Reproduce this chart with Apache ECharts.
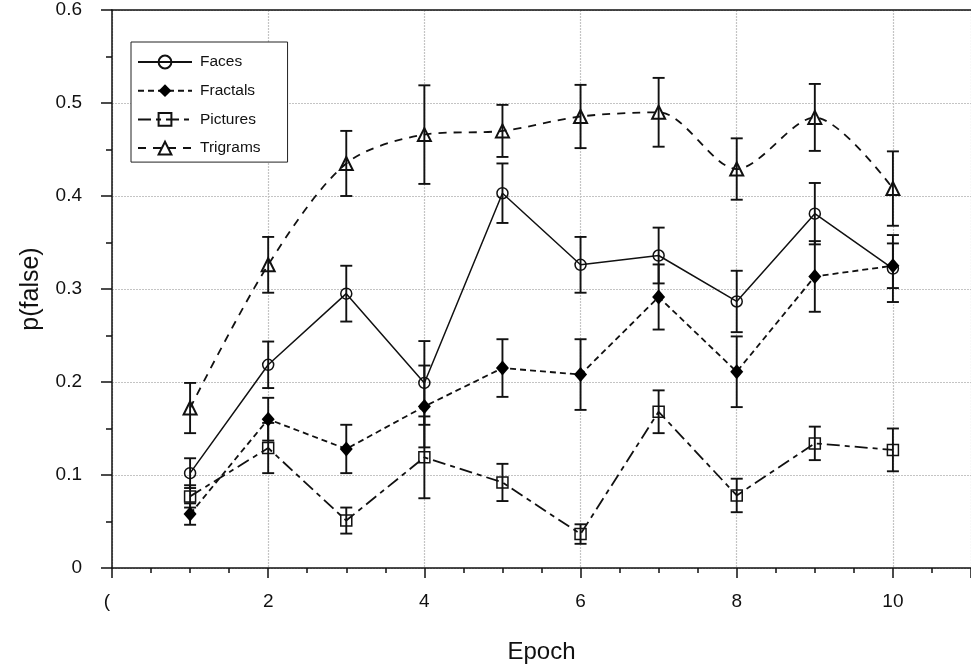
<!DOCTYPE html>
<html>
<head>
<meta charset="utf-8">
<script src="https://cdn.jsdelivr.net/npm/echarts@6/dist/echarts.min.js"></script>
<style>
html,body{margin:0;padding:0;background:#fff;}
#chart{width:971px;height:670px;}
</style>
</head>
<body>
<div id="chart"></div>
<script>
// ---- data ----
var epochs = [1, 2, 3, 4, 5, 6, 7, 8, 9, 10];
var seriesNames = ['Faces', 'Fractals', 'Pictures', 'Trigrams'];
var facesMean    = [0.102, 0.2185, 0.295, 0.199, 0.403, 0.326, 0.336, 0.2866, 0.381, 0.322];
var facesErr     = [0.016, 0.025, 0.030, 0.045, 0.032, 0.030, 0.030, 0.033, 0.033, 0.036];
var fractalsMean = [0.058, 0.160, 0.128, 0.1737, 0.215, 0.208, 0.2914, 0.211, 0.3135, 0.325];
var fractalsErr  = [0.0115, 0.023, 0.026, 0.044, 0.031, 0.038, 0.035, 0.038, 0.038, 0.024];
var picturesMean = [0.077, 0.129, 0.051, 0.119, 0.092, 0.0365, 0.168, 0.078, 0.134, 0.127];
var picturesErr  = [0.012, 0.027, 0.014, 0.044, 0.020, 0.0105, 0.023, 0.018, 0.018, 0.023];
var trigramsMean = [0.172, 0.326, 0.435, 0.466, 0.470, 0.4855, 0.490, 0.429, 0.4845, 0.408];
var trigramsErr  = [0.027, 0.030, 0.035, 0.053, 0.028, 0.034, 0.037, 0.033, 0.036, 0.040];
var xAxisTitle = 'Epoch';
var yAxisTitle = 'p(false)';

var FONT = '"Liberation Sans", Arial, Helvetica, sans-serif';
var INK = '#111';

function pts(means) {
  return epochs.map(function (e, i) { return [e, means[i]]; });
}
function errPts(means, errs) {
  return epochs.map(function (e, i) { return [e, means[i] - errs[i], means[i] + errs[i]]; });
}

function errorSeries(means, errs) {
  return {
    type: 'custom',
    silent: true,
    z: 1,
    data: errPts(means, errs),
    renderItem: function (params, api) {
      var x = api.value(0), lo = api.value(1), hi = api.value(2);
      var a = api.coord([x, hi]);
      var b = api.coord([x, lo]);
      var w = 6;
      var st = { stroke: '#111', lineWidth: 1.9 };
      return {
        type: 'group',
        children: [
          { type: 'line', shape: { x1: a[0], y1: a[1], x2: b[0], y2: b[1] }, style: st },
          { type: 'line', shape: { x1: a[0] - w, y1: a[1], x2: a[0] + w, y2: a[1] }, style: st },
          { type: 'line', shape: { x1: b[0] - w, y1: b[1], x2: b[0] + w, y2: b[1] }, style: st }
        ]
      };
    }
  };
}

var hollow = 'rgba(255,255,255,0)';

var chart = echarts.init(document.getElementById('chart'), null, { renderer: 'canvas' });
chart.setOption({
  animation: false,
  backgroundColor: '#fff',
  textStyle: { fontFamily: FONT, color: INK },
  grid: { left: 112, top: 10, right: -8, bottom: 102, containLabel: false },
  legend: {
    data: seriesNames,
    orient: 'vertical',
    left: 131,
    top: 42,
    padding: [12, 27, 6, 6],
    itemGap: 12.7,
    itemWidth: 54,
    itemHeight: 16,
    backgroundColor: '#fff',
    borderColor: '#222',
    borderWidth: 1,
    borderRadius: 0,
    textStyle: { fontFamily: FONT, fontSize: 15.5, color: INK, padding: [0, 0, 0, 3] }
  },
  xAxis: [{
    type: 'value',
    min: 0, max: 11, interval: 2,
    name: xAxisTitle,
    nameLocation: 'middle',
    nameGap: 72,
    nameTextStyle: { fontFamily: FONT, fontSize: 24, color: INK },
    axisLine: { show: true, onZero: false, lineStyle: { color: '#111', width: 1.5 } },
    axisTick: { show: true, length: 10, lineStyle: { color: '#111', width: 1.5 } },
    minorTick: { show: true, splitNumber: 4, length: 5, lineStyle: { color: '#111', width: 1.5 } },
    splitLine: { show: true, lineStyle: { color: '#c4c4c4', width: 1.2, type: [2, 1] } },
    axisLabel: {
      margin: 24, fontFamily: FONT, fontSize: 19, color: INK,
      showMaxLabel: false,
      formatter: function (v) { return v === 0 ? '{z|(}' : String(v); },
      rich: { z: { fontFamily: FONT, fontSize: 19, color: INK, padding: [0, 10, 0, 0] } }
    }
  }, {
    type: 'value',
    position: 'top',
    min: 0, max: 11,
    axisLine: { show: true, onZero: false, lineStyle: { color: '#111', width: 1.5 } },
    axisTick: { show: false },
    axisLabel: { show: false },
    splitLine: { show: false }
  }],
  yAxis: {
    type: 'value',
    min: 0, max: 0.6, interval: 0.1,
    name: yAxisTitle,
    nameLocation: 'middle',
    nameGap: 68,
    nameTextStyle: { fontFamily: FONT, fontSize: 25, color: INK },
    axisLine: { show: true, onZero: false, lineStyle: { color: '#111', width: 1.5 } },
    axisTick: { show: true, length: 11, lineStyle: { color: '#111', width: 1.5 } },
    minorTick: { show: true, splitNumber: 2, length: 6, lineStyle: { color: '#111', width: 1.5 } },
    splitLine: { show: true, lineStyle: { color: '#c4c4c4', width: 1.2, type: [2, 1] } },
    axisLabel: {
      margin: 30, fontFamily: FONT, fontSize: 19, color: INK,
      formatter: function (v) { return v === 0 ? '0' : (Math.round(v * 10) / 10).toFixed(1); }
    }
  },
  series: [
    {
      name: 'Faces', type: 'line', data: pts(facesMean), z: 3,
      symbol: 'circle', symbolSize: 11,
      lineStyle: { color: '#111', width: 1.5, type: 'solid' },
      itemStyle: { color: hollow, borderColor: '#111', borderWidth: 1.5 }
    },
    {
      name: 'Fractals', type: 'line', data: pts(fractalsMean), z: 3,
      symbol: 'diamond', symbolSize: [13, 15],
      lineStyle: { color: '#111', width: 1.8, type: [6, 4] },
      itemStyle: { color: '#000', borderColor: '#000', borderWidth: 0 }
    },
    {
      name: 'Pictures', type: 'line', data: pts(picturesMean), z: 3,
      symbol: 'rect', symbolSize: 11,
      lineStyle: { color: '#111', width: 1.8, type: [13, 5, 5, 5] },
      itemStyle: { color: hollow, borderColor: '#111', borderWidth: 1.5 }
    },
    {
      name: 'Trigrams', type: 'line', data: pts(trigramsMean), z: 3,
      symbol: 'triangle', symbolSize: [13, 13], smooth: 0.3,
      lineStyle: { color: '#111', width: 1.8, type: [8, 7] },
      itemStyle: { color: hollow, borderColor: '#111', borderWidth: 2 }
    },
    errorSeries(facesMean, facesErr),
    errorSeries(fractalsMean, fractalsErr),
    errorSeries(picturesMean, picturesErr),
    errorSeries(trigramsMean, trigramsErr)
  ]
});
</script>
</body>
</html>
